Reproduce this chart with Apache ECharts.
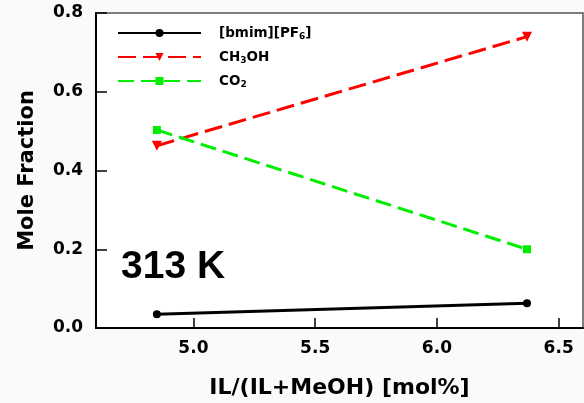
<!DOCTYPE html>
<html>
<head>
<meta charset="utf-8">
<script src="https://cdn.jsdelivr.net/npm/echarts@6/dist/echarts.min.js"></script>
<style>html,body{margin:0;padding:0;background:#fafafa;}#c{width:584px;height:403px;}</style>
</head>
<body>
<div id="c"></div>
<script>
var xValues = [4.85, 6.37];
var bmimPF6 = [0.035, 0.063];
var ch3oh = [0.463, 0.740];
var co2 = [0.503, 0.200];
var xTicks = [5.0, 5.5, 6.0, 6.5];
var seriesNames = ['[bmim][PF6]', 'CH3OH', 'CO2'];
var legendLabels = {
  '[bmim][PF6]': '{n|[bmim][PF}{s|6}{n|]}',
  'CH3OH': '{n|CH}{s|3}{n|OH}',
  'CO2': '{n|CO}{s|2}'
};
var annotation = '313 K';
var xTitle = 'IL/(IL+MeOH) [mol%]';
var yTitle = 'Mole Fraction';

function pairs(ys) { return xValues.map(function (x, i) { return [x, ys[i]]; }); }

var FONT = 'DejaVu Sans';
var chart = echarts.init(document.getElementById('c'), null, {renderer: 'canvas'});
chart.setOption({
  backgroundColor: '#fafafa',
  animation: false,
  grid: {left: 96, top: 13, right: 1, bottom: 75, containLabel: false, outerBoundsMode: 'none',
    show: true, backgroundColor: '#ffffff', borderColor: '#555', borderWidth: 1.5},
  xAxis: {
    type: 'value', min: 4.6, max: 6.6,
    name: xTitle, nameLocation: 'middle', nameGap: 49,
    nameTextStyle: {fontFamily: FONT, fontWeight: 'bold', fontSize: 22, color: '#000'},
    axisLine: {onZero: false, lineStyle: {color: '#000', width: 2}},
    axisTick: {show: true, inside: false, length: -10, lineStyle: {color: '#000', width: 1.5}, customValues: xTicks},
    axisLabel: {customValues: xTicks, margin: 12, fontFamily: FONT, fontWeight: 'bold', fontSize: 17, color: '#000',
      formatter: function (v) { return v.toFixed(1); }},
    splitLine: {show: false}
  },
  yAxis: {
    type: 'value', min: 0, max: 0.8, interval: 0.2,
    name: yTitle, nameLocation: 'middle', nameGap: 58, nameRotate: 90,
    nameTextStyle: {fontFamily: FONT, fontWeight: 'bold', fontSize: 21, color: '#000'},
    axisLine: {onZero: false, lineStyle: {color: '#000', width: 2}},
    axisTick: {show: true, inside: false, length: -11, lineStyle: {color: '#000', width: 1.5}},
    axisLabel: {margin: 13, fontFamily: FONT, fontWeight: 'bold', fontSize: 17, color: '#000',
      formatter: function (v) { return v.toFixed(1); }},
    splitLine: {show: false}
  },
  legend: {
    orient: 'vertical', left: 112, top: 20,
    itemWidth: 83, itemHeight: 10, itemGap: 8,
    data: seriesNames,
    formatter: function (name) { return legendLabels[name]; },
    textStyle: {
      padding: [0, 0, 0, 13],
      rich: {
        n: {fontFamily: FONT, fontWeight: 'bold', fontSize: 13.5, color: '#000', lineHeight: 14},
        s: {fontFamily: FONT, fontWeight: 'bold', fontSize: 9, color: '#000', padding: [7, 0, 0, 0], lineHeight: 9}
      }
    }
  },
  graphic: [{
    type: 'text', left: 121, top: 248,
    style: {text: annotation, fontFamily: 'Liberation Sans', fontWeight: 'bold', fontSize: 39, fill: '#000'}
  }],
  series: [
    {name: seriesNames[0], type: 'line', data: pairs(bmimPF6), symbol: 'circle', symbolSize: 8,
      lineStyle: {color: '#000', width: 3}, itemStyle: {color: '#000'}},
    {name: seriesNames[1], type: 'line', data: pairs(ch3oh), symbol: 'triangle', symbolRotate: 180, symbolSize: 10,
      lineStyle: {color: '#ff0000', width: 3, type: [18, 7]}, itemStyle: {color: '#ff0000'}},
    {name: seriesNames[2], type: 'line', data: pairs(co2), symbol: 'rect', symbolSize: 8,
      lineStyle: {color: '#00ee00', width: 3, type: [16, 7]}, itemStyle: {color: '#00ee00'}}
  ]
});
</script>
</body>
</html>
